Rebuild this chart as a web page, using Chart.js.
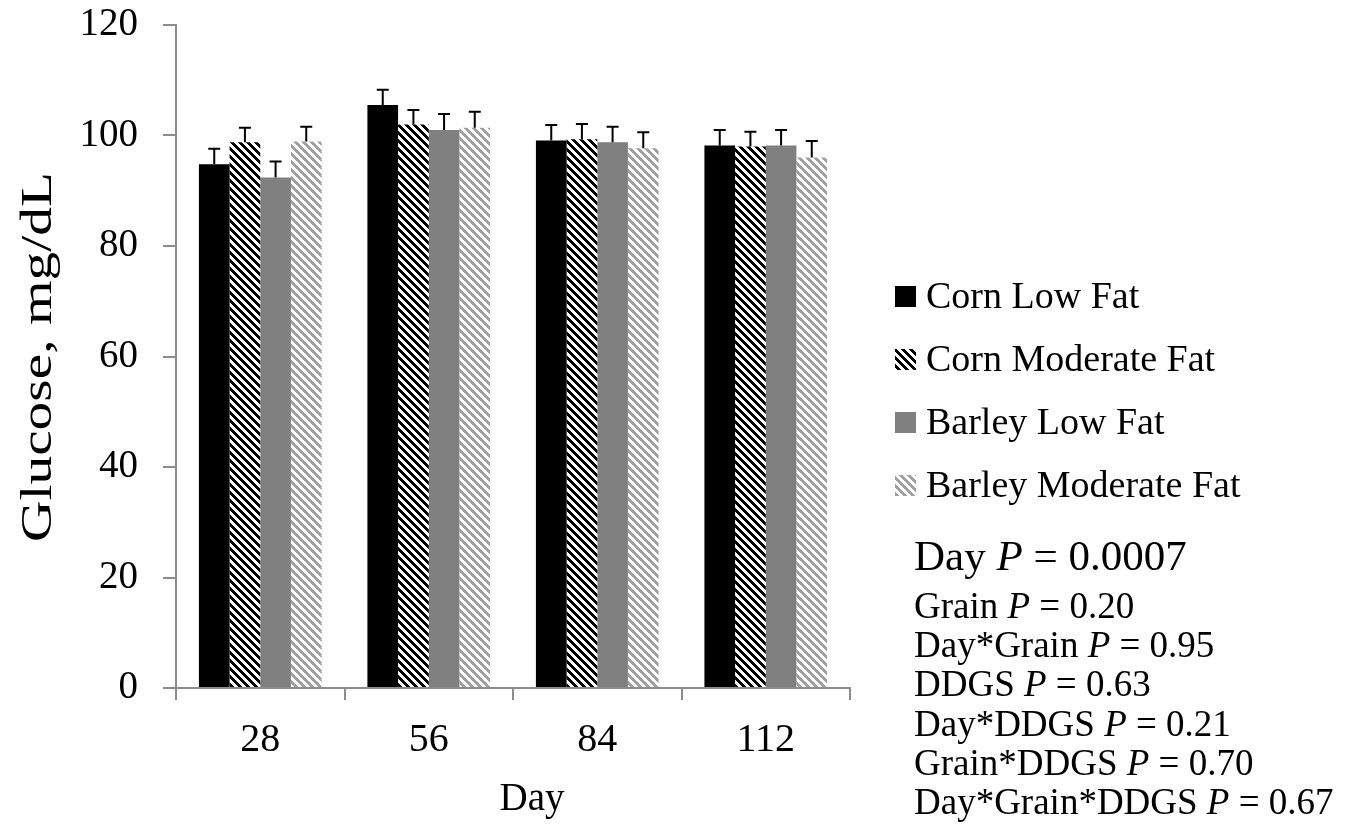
<!DOCTYPE html>
<html>
<head>
<meta charset="utf-8">
<script src="https://cdn.jsdelivr.net/npm/chart.js@4.4.1/dist/chart.umd.min.js"></script>
<style>
  body { margin: 0; background: #fff; }
  #chart { display: block; }
</style>
</head>
<body>
<canvas id="chart" width="1346" height="838"></canvas>
<script>
var days = ['28', '56', '84', '112'];
var series_names = ['Corn Low Fat', 'Corn Moderate Fat', 'Barley Low Fat', 'Barley Moderate Fat'];
var corn_low = [94.8, 105.5, 99.1, 98.2];
var corn_low_err = [2.8, 2.8, 2.8, 2.8];
var corn_mod = [98.8, 102.0, 99.3, 98.0];
var corn_mod_err = [2.6, 2.6, 2.8, 2.7];
var barley_low = [92.4, 101.0, 98.8, 98.2];
var barley_low_err = [2.9, 2.9, 2.8, 2.8];
var barley_mod = [98.9, 101.4, 97.7, 96.0];
var barley_mod_err = [2.7, 2.9, 2.9, 3.0];
var y_ticks = [0, 20, 40, 60, 80, 100, 120];
var p_labels = ['Day', 'Grain', 'Day*Grain', 'DDGS', 'Day*DDGS', 'Grain*DDGS', 'Day*Grain*DDGS'];
var p_values = ['0.0007', '0.20', '0.95', '0.63', '0.21', '0.70', '0.67'];

var serif = '"Liberation Serif", "Times New Roman", serif';
var axis_grey = '#8c8c8c';

function stripes(fg){
    var c = document.createElement('canvas');
    c.width = 8; c.height = 8;
    var g = c.getContext('2d');
    g.fillStyle = '#fff';
    g.fillRect(0, 0, 8, 8);
    g.fillStyle = fg;
    for(var y=0; y<8; y++){
        for(var x=0; x<8; x++){
            if(((x - y) % 8 + 8) % 8 < 4) g.fillRect(x, y, 1, 1);
        }
    }
    return document.getElementById('chart').getContext('2d').createPattern(c, 'repeat');
}

var fills = ['#000000', stripes('#000000'), '#808080', stripes('#a0a0a0')];

var errorBars = {
    id: 'errorBars',
    afterDatasetsDraw: function(chart){
        var ctx = chart.ctx;
        var yScale = chart.scales.y;
        ctx.save();
        ctx.strokeStyle = '#000';
        ctx.lineWidth = 2;
        chart.data.datasets.forEach(function(ds, i){
            var meta = chart.getDatasetMeta(i);
            meta.data.forEach(function(bar, j){
                var top = yScale.getPixelForValue(ds.data[j] + ds.errors[j]);
                ctx.beginPath();
                ctx.moveTo(bar.x, bar.y);
                ctx.lineTo(bar.x, top);
                ctx.moveTo(bar.x - 6, top);
                ctx.lineTo(bar.x + 6, top);
                ctx.stroke();
            });
        });
        ctx.restore();
    }
};

var sideTexts = {
    id: 'sideTexts',
    afterDraw: function(chart){
        var ctx = chart.ctx;
        ctx.save();
        ctx.fillStyle = '#000';
        ctx.textBaseline = 'alphabetic';
        // y axis title, a little stretched along its length like the original
        ctx.save();
        ctx.font = '44px ' + serif;
        ctx.textAlign = 'center';
        ctx.translate(51, 357);
        ctx.rotate(-Math.PI / 2);
        var w = ctx.measureText('Glucose, mg/dL').width;
        ctx.scale(370 / w, 1);
        ctx.fillText('Glucose, mg/dL', 0, 0);
        ctx.restore();
        // x axis title
        ctx.font = '39px ' + serif;
        ctx.textAlign = 'center';
        ctx.fillText('Day', 532, 810);
        ctx.textAlign = 'left';
        // legend
        chart.data.datasets.forEach(function(ds, i){
            var base = 308 + i * 63;
            ctx.fillStyle = ds.backgroundColor;
            ctx.fillRect(895, base - 22, 21, 21);
            ctx.fillStyle = '#000';
            ctx.font = '38px ' + serif;
            ctx.fillText(ds.label, 926, base);
        });
        // p values
        var bases = [570, 618, 657, 696, 736, 775, 814];
        for(var k=0; k<p_labels.length; k++){
            var size = k == 0 ? 43 : 37;
            var x = 914;
            ctx.font = size + 'px ' + serif;
            ctx.fillText(p_labels[k] + ' ', x, bases[k]);
            x += ctx.measureText(p_labels[k] + ' ').width;
            ctx.font = 'italic ' + size + 'px ' + serif;
            ctx.fillText('P', x, bases[k]);
            x += ctx.measureText('P').width;
            ctx.font = size + 'px ' + serif;
            ctx.fillText(' = ' + p_values[k], x, bases[k]);
        }
        ctx.restore();
    }
};

var all_values = [corn_low, corn_mod, barley_low, barley_mod];
var all_errors = [corn_low_err, corn_mod_err, barley_low_err, barley_mod_err];

new Chart(document.getElementById('chart'), {
    type: 'bar',
    data: {
        labels: days,
        datasets: series_names.map(function(name, i){
            return {
                label: name,
                data: all_values[i],
                errors: all_errors[i],
                backgroundColor: fills[i],
                borderWidth: 0,
                categoryPercentage: 0.728,
                barPercentage: 1
            };
        })
    },
    options: {
        responsive: false,
        animation: false,
        layout: { padding: { top: 25, right: 496, left: 0, bottom: 0 } },
        plugins: { legend: { display: false }, tooltip: { enabled: false } },
        scales: {
            x: {
                afterFit: function(scale){ scale.height = 150; scale.paddingLeft = 0; scale.paddingRight = 0; },
                grid: { offset: true, drawOnChartArea: false, drawTicks: true, tickLength: 12, color: axis_grey, lineWidth: 2 },
                border: { color: axis_grey, width: 2 },
                ticks: { color: '#000', font: { family: serif, size: 40 }, padding: 16 }
            },
            y: {
                min: 0,
                max: 120,
                afterFit: function(scale){ scale.width = 176; scale.paddingTop = 0; scale.paddingBottom = 0; },
                afterBuildTicks: function(scale){ scale.ticks = y_ticks.map(function(v){ return {value: v}; }); },
                grid: { drawOnChartArea: false, drawTicks: true, tickLength: 13, color: axis_grey, lineWidth: 2 },
                border: { color: axis_grey, width: 2 },
                ticks: { color: '#000', font: { family: serif, size: 39 }, padding: 25 },
                title: { display: false }
            }
        }
    },
    plugins: [errorBars, sideTexts]
});
</script>
</body>
</html>
